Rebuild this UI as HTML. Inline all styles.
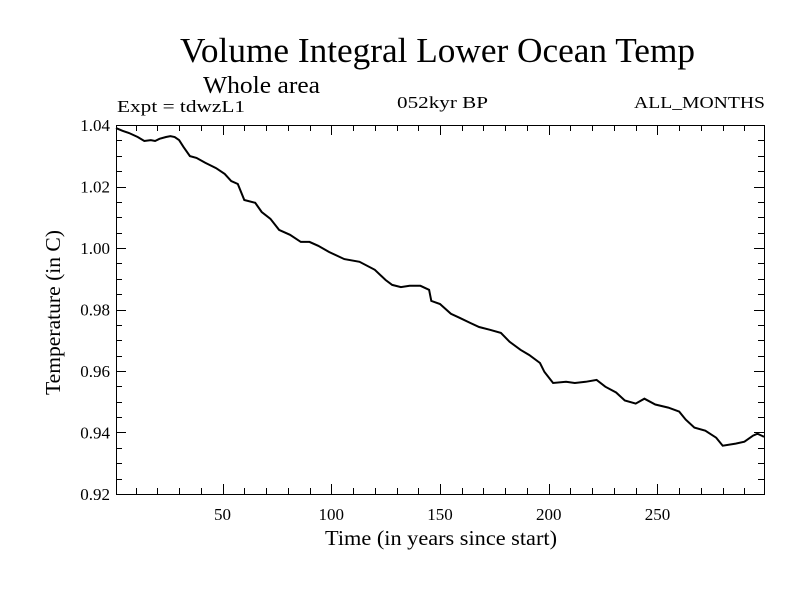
<!DOCTYPE html>
<html><head><meta charset="utf-8"><style>
body{margin:0;background:#fff;}
svg text{font-family:"Liberation Serif",serif;fill:#000;}
</style></head><body>
<svg id="chart" width="800" height="600" xmlns="http://www.w3.org/2000/svg">
<rect width="800" height="600" fill="#fff"/>
<text x="180" y="62" font-size="35" textLength="515" lengthAdjust="spacingAndGlyphs">Volume Integral Lower Ocean Temp</text>
<text x="203" y="93" font-size="24" textLength="117" lengthAdjust="spacingAndGlyphs">Whole area</text>
<text x="117" y="112" font-size="17" textLength="128" lengthAdjust="spacingAndGlyphs">Expt = tdwzL1</text>
<text x="397" y="108" font-size="17" textLength="91" lengthAdjust="spacingAndGlyphs">052kyr BP</text>
<text x="634" y="108" font-size="17" textLength="131" lengthAdjust="spacingAndGlyphs">ALL_MONTHS</text>
<text x="325" y="545" font-size="21" textLength="232" lengthAdjust="spacingAndGlyphs">Time (in years since start)</text>
<text transform="translate(60,395) rotate(-90)" font-size="21" textLength="165" lengthAdjust="spacingAndGlyphs">Temperature (in C)</text>
<g id="axes"></g>
<path id="series" fill="none" stroke="#000" stroke-width="2"/>
</svg>
<script>
const years=[1,4,7,11,14,17,19,21,24,26,28,30,32,35,38,42,47,51,54,57,60,65,68,72,76,81,86,90,94,99,106,113,120,125,128,132,136,141,145,146,150,155,159,164,168,173,178,182,187,191,196,198,202,208,212,217,222,226,231,235,240,244,249,255,260,263,267,272,277,280,286,290,294,296,299];
const temps=[1.0390,1.0381,1.0374,1.0361,1.0348,1.0351,1.0348,1.0355,1.0361,1.0364,1.0361,1.0351,1.0329,1.0299,1.0293,1.0277,1.0260,1.0241,1.0218,1.0208,1.0156,1.0147,1.0117,1.0095,1.0059,1.0043,1.0020,1.0020,1.0007,0.9987,0.9964,0.9955,0.9929,0.9896,0.9880,0.9873,0.9877,0.9877,0.9864,0.9828,0.9818,0.9786,0.9773,0.9756,0.9743,0.9734,0.9724,0.9695,0.9669,0.9652,0.9626,0.9597,0.9561,0.9565,0.9561,0.9565,0.9571,0.9549,0.9530,0.9504,0.9494,0.9510,0.9491,0.9481,0.9468,0.9442,0.9416,0.9406,0.9383,0.9357,0.9364,0.9370,0.9390,0.9396,0.9386];
const xTicks=[50,100,150,200,250];
const yTicks=[0.92,0.94,0.96,0.98,1.00,1.02,1.04];
const yTickLabels=["0.92","0.94","0.96","0.98","1.00","1.02","1.04"];
const L=116,R=764,T=125,B=494,X0=1,X1=299,Y0=0.92,Y1=1.04;
const sx=v=>L+(v-X0)/(X1-X0)*(R-L);
const sy=v=>B-(v-Y0)/(Y1-Y0)*(B-T);
const NS="http://www.w3.org/2000/svg";
const axes=document.getElementById('axes');
function line(x1,y1,x2,y2,name){const l=document.createElementNS(NS,'line');
l.setAttribute('x1',x1);l.setAttribute('y1',y1);l.setAttribute('x2',x2);l.setAttribute('y2',y2);
l.setAttribute('stroke','#000');l.setAttribute('stroke-width','1');


axes.appendChild(l);}
function text(x,y,s,anchor,name){const t=document.createElementNS(NS,'text');
t.setAttribute('x',x);t.setAttribute('y',y);t.setAttribute('font-size','17');t.setAttribute('text-anchor',anchor);t.textContent=s;


axes.appendChild(t);}
const fr=document.createElementNS(NS,'rect');
fr.setAttribute('x',L+0.5);fr.setAttribute('y',T+0.5);fr.setAttribute('width',R-L);fr.setAttribute('height',B-T);
fr.setAttribute('fill','none');fr.setAttribute('stroke','#000');


axes.appendChild(fr);
for(let v=10;v<X1;v+=10){const x=Math.round(sx(v))+0.5;const major=v%50===0;const len=major?10:6;
line(x,B,x,B-len,'x-tick');line(x,T,x,T+len,'x-tick-top');}
xTicks.forEach(v=>text(sx(v),520,String(v),'middle','x-tick-label'));
for(let i=0;i<=24;i++){const v=Y0+i*0.005;const y=Math.round(sy(v))+0.5;const major=i%4===0;const len=major?10:6;
line(L,y,L+len,y,'y-tick');line(R,y,R-len,y,'y-tick-right');}
yTicks.forEach((v,i)=>text(110,sy(v)+6,yTickLabels[i],'end','y-tick-label'));
document.getElementById('series').setAttribute('d',years.map((y,i)=>(i?'L':'M')+sx(y).toFixed(1)+','+sy(temps[i]).toFixed(1)).join(''));
</script>
</body></html>
